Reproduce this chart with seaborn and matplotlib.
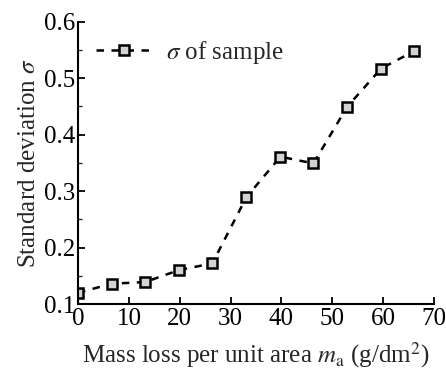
import numpy as np
import pandas as pd
import matplotlib
matplotlib.use("Agg")
import matplotlib.pyplot as plt
import seaborn as sns
from matplotlib.ticker import MultipleLocator

# Values
mass_loss = [0, 6.6, 13.2, 19.8, 26.4, 33.1, 39.8, 46.3, 52.9, 59.6, 66.1]
sigma = [0.120, 0.136, 0.139, 0.160, 0.172, 0.289, 0.361, 0.349, 0.449, 0.517, 0.548]

df = pd.DataFrame({"mass_loss": mass_loss, "sigma": sigma})

sns.set_style("ticks")
plt.rcParams["font.family"] = ["Liberation Serif", "DejaVu Serif"]
plt.rcParams["mathtext.fontset"] = "stix"

fig = plt.figure(figsize=(4.46, 3.74), dpi=100)
ax = fig.add_axes([0.175, 0.187, 0.798, 0.755])

sns.lineplot(
    data=df, x="mass_loss", y="sigma", ax=ax,
    color="black", linewidth=1.8, dashes=False,
    marker="s", markersize=7, markerfacecolor="#d3d3d3",
    markeredgecolor="black", markeredgewidth=1.8,
    label=r"$\sigma$ of sample",
)
for ln in ax.lines:
    ln.set_dashes([3, 3])

ax.set_xlim(0, 70)
ax.set_ylim(0.1, 0.6)
ax.xaxis.set_major_locator(MultipleLocator(10))
ax.yaxis.set_major_locator(MultipleLocator(0.1))
ax.yaxis.set_minor_locator(MultipleLocator(0.05))
ax.tick_params(axis="both", which="major", direction="in", length=5, width=1.3,
               labelsize=18, colors="black")
ax.tick_params(axis="y", which="major", pad=2)
ax.tick_params(axis="x", which="major", pad=3)
ax.tick_params(axis="y", which="minor", direction="in", length=3, width=1.0)

sns.despine(ax=ax)
for s in ["left", "bottom"]:
    ax.spines[s].set_linewidth(1.5)
    ax.spines[s].set_color("black")

ax.set_xlabel(r"Mass loss per unit area $m_\mathrm{a}$ (g/dm$^2$)", fontsize=18, labelpad=7)
ax.set_ylabel(r"Standard deviation $\sigma$", fontsize=18, labelpad=3)

leg = ax.legend(loc="upper left", frameon=False, fontsize=18, handlelength=2.3,
                handletextpad=0.5, borderaxespad=0.3)
for h in leg.legend_handles:
    h.set_dashes([3, 3])

fig.savefig("out.png", dpi=100)
